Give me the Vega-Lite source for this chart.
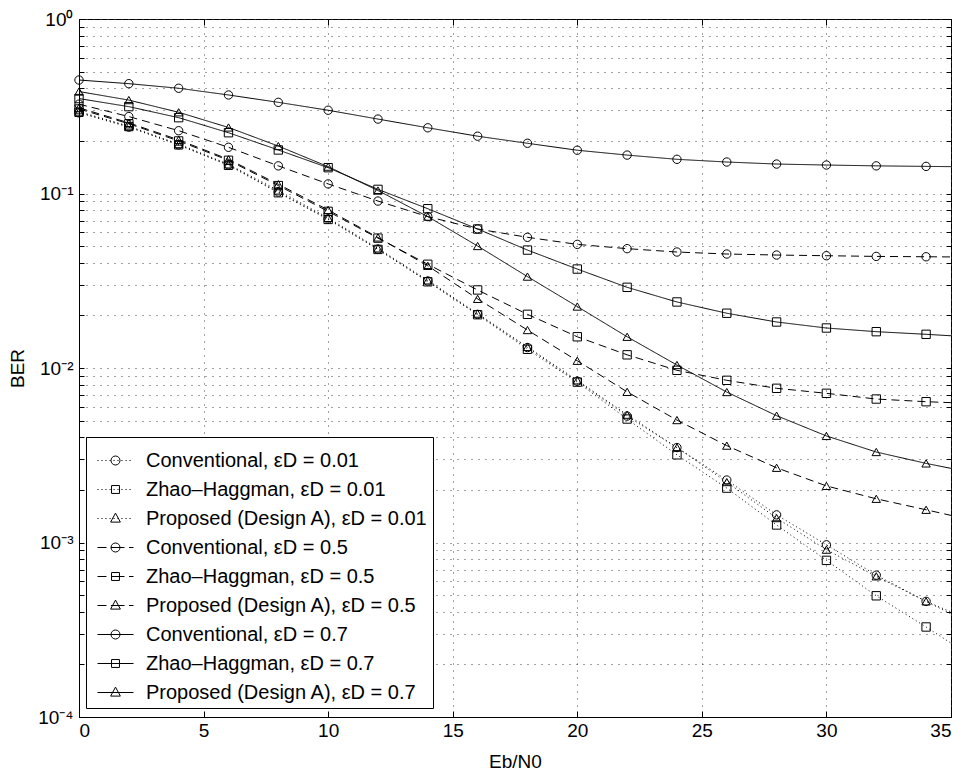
{
  "$schema": "https://vega.github.io/schema/vega-lite/v6.json",
  "width": 872,
  "height": 698,
  "autosize": {"type": "none"},
  "padding": {"left": 79, "top": 19, "right": 14, "bottom": 59},
  "background": "white",
  "config": {
    "font": "Liberation Sans",
    "view": {"stroke": "black", "strokeWidth": 1},
    "axis": {"domainColor": "black", "tickColor": "black", "labelColor": "black", "titleColor": "black", "labelFontSize": 19, "titleFontSize": 19, "titleFontWeight": "normal", "labelFont": "Liberation Sans", "titleFont": "Liberation Sans"}
  },
  "data": {"values": [
    {"m":"Conv","e":"0.01","x":0,"y":0.29},{"m":"Conv","e":"0.01","x":2,"y":0.24},{"m":"Conv","e":"0.01","x":4,"y":0.19},{"m":"Conv","e":"0.01","x":6,"y":0.146},{"m":"Conv","e":"0.01","x":8,"y":0.102},{"m":"Conv","e":"0.01","x":10,"y":0.0715},{"m":"Conv","e":"0.01","x":12,"y":0.048},{"m":"Conv","e":"0.01","x":14,"y":0.0315},{"m":"Conv","e":"0.01","x":16,"y":0.0203},{"m":"Conv","e":"0.01","x":18,"y":0.0131},{"m":"Conv","e":"0.01","x":20,"y":0.0084},{"m":"Conv","e":"0.01","x":22,"y":0.0053},{"m":"Conv","e":"0.01","x":24,"y":0.0035},{"m":"Conv","e":"0.01","x":26,"y":0.00228},{"m":"Conv","e":"0.01","x":28,"y":0.00144},{"m":"Conv","e":"0.01","x":30,"y":0.00097},{"m":"Conv","e":"0.01","x":32,"y":0.00065},{"m":"Conv","e":"0.01","x":34,"y":0.00046},{"m":"Conv","e":"0.01","x":35,"y":0.00039},
    {"m":"ZH","e":"0.01","x":0,"y":0.292},{"m":"ZH","e":"0.01","x":2,"y":0.242},{"m":"ZH","e":"0.01","x":4,"y":0.19},{"m":"ZH","e":"0.01","x":6,"y":0.145},{"m":"ZH","e":"0.01","x":8,"y":0.101},{"m":"ZH","e":"0.01","x":10,"y":0.071},{"m":"ZH","e":"0.01","x":12,"y":0.0478},{"m":"ZH","e":"0.01","x":14,"y":0.0312},{"m":"ZH","e":"0.01","x":16,"y":0.0202},{"m":"ZH","e":"0.01","x":18,"y":0.0128},{"m":"ZH","e":"0.01","x":20,"y":0.0083},{"m":"ZH","e":"0.01","x":22,"y":0.0051},{"m":"ZH","e":"0.01","x":24,"y":0.00318},{"m":"ZH","e":"0.01","x":26,"y":0.00205},{"m":"ZH","e":"0.01","x":28,"y":0.00126},{"m":"ZH","e":"0.01","x":30,"y":0.00079},{"m":"ZH","e":"0.01","x":32,"y":0.000495},{"m":"ZH","e":"0.01","x":34,"y":0.000328},{"m":"ZH","e":"0.01","x":35,"y":0.000265},
    {"m":"Prop","e":"0.01","x":0,"y":0.295},{"m":"Prop","e":"0.01","x":2,"y":0.243},{"m":"Prop","e":"0.01","x":4,"y":0.192},{"m":"Prop","e":"0.01","x":6,"y":0.147},{"m":"Prop","e":"0.01","x":8,"y":0.104},{"m":"Prop","e":"0.01","x":10,"y":0.0725},{"m":"Prop","e":"0.01","x":12,"y":0.0485},{"m":"Prop","e":"0.01","x":14,"y":0.0318},{"m":"Prop","e":"0.01","x":16,"y":0.0205},{"m":"Prop","e":"0.01","x":18,"y":0.0132},{"m":"Prop","e":"0.01","x":20,"y":0.0085},{"m":"Prop","e":"0.01","x":22,"y":0.0054},{"m":"Prop","e":"0.01","x":24,"y":0.0035},{"m":"Prop","e":"0.01","x":26,"y":0.00222},{"m":"Prop","e":"0.01","x":28,"y":0.00138},{"m":"Prop","e":"0.01","x":30,"y":0.00091},{"m":"Prop","e":"0.01","x":32,"y":0.00064},{"m":"Prop","e":"0.01","x":34,"y":0.00046},{"m":"Prop","e":"0.01","x":35,"y":0.0004},
    {"m":"Conv","e":"0.5","x":0,"y":0.325},{"m":"Conv","e":"0.5","x":2,"y":0.276},{"m":"Conv","e":"0.5","x":4,"y":0.229},{"m":"Conv","e":"0.5","x":6,"y":0.184},{"m":"Conv","e":"0.5","x":8,"y":0.144},{"m":"Conv","e":"0.5","x":10,"y":0.1135},{"m":"Conv","e":"0.5","x":12,"y":0.0905},{"m":"Conv","e":"0.5","x":14,"y":0.0737},{"m":"Conv","e":"0.5","x":16,"y":0.0626},{"m":"Conv","e":"0.5","x":18,"y":0.0561},{"m":"Conv","e":"0.5","x":20,"y":0.0511},{"m":"Conv","e":"0.5","x":22,"y":0.0483},{"m":"Conv","e":"0.5","x":24,"y":0.0462},{"m":"Conv","e":"0.5","x":26,"y":0.045},{"m":"Conv","e":"0.5","x":28,"y":0.0444},{"m":"Conv","e":"0.5","x":30,"y":0.044},{"m":"Conv","e":"0.5","x":32,"y":0.0436},{"m":"Conv","e":"0.5","x":34,"y":0.0434},{"m":"Conv","e":"0.5","x":35,"y":0.0433},
    {"m":"ZH","e":"0.5","x":0,"y":0.305},{"m":"ZH","e":"0.5","x":2,"y":0.251},{"m":"ZH","e":"0.5","x":4,"y":0.2},{"m":"ZH","e":"0.5","x":6,"y":0.155},{"m":"ZH","e":"0.5","x":8,"y":0.111},{"m":"ZH","e":"0.5","x":10,"y":0.079},{"m":"ZH","e":"0.5","x":12,"y":0.0555},{"m":"ZH","e":"0.5","x":14,"y":0.0393},{"m":"ZH","e":"0.5","x":16,"y":0.028},{"m":"ZH","e":"0.5","x":18,"y":0.0203},{"m":"ZH","e":"0.5","x":20,"y":0.0151},{"m":"ZH","e":"0.5","x":22,"y":0.0119},{"m":"ZH","e":"0.5","x":24,"y":0.0097},{"m":"ZH","e":"0.5","x":26,"y":0.0085},{"m":"ZH","e":"0.5","x":28,"y":0.00765},{"m":"ZH","e":"0.5","x":30,"y":0.00716},{"m":"ZH","e":"0.5","x":32,"y":0.00664},{"m":"ZH","e":"0.5","x":34,"y":0.00641},{"m":"ZH","e":"0.5","x":35,"y":0.00633},
    {"m":"Prop","e":"0.5","x":0,"y":0.31},{"m":"Prop","e":"0.5","x":2,"y":0.254},{"m":"Prop","e":"0.5","x":4,"y":0.203},{"m":"Prop","e":"0.5","x":6,"y":0.157},{"m":"Prop","e":"0.5","x":8,"y":0.113},{"m":"Prop","e":"0.5","x":10,"y":0.0805},{"m":"Prop","e":"0.5","x":12,"y":0.056},{"m":"Prop","e":"0.5","x":14,"y":0.0385},{"m":"Prop","e":"0.5","x":16,"y":0.0249},{"m":"Prop","e":"0.5","x":18,"y":0.0165},{"m":"Prop","e":"0.5","x":20,"y":0.011},{"m":"Prop","e":"0.5","x":22,"y":0.0073},{"m":"Prop","e":"0.5","x":24,"y":0.00503},{"m":"Prop","e":"0.5","x":26,"y":0.00359},{"m":"Prop","e":"0.5","x":28,"y":0.00268},{"m":"Prop","e":"0.5","x":30,"y":0.00211},{"m":"Prop","e":"0.5","x":32,"y":0.00178},{"m":"Prop","e":"0.5","x":34,"y":0.00154},{"m":"Prop","e":"0.5","x":35,"y":0.00143},
    {"m":"Conv","e":"0.7","x":0,"y":0.447},{"m":"Conv","e":"0.7","x":2,"y":0.426},{"m":"Conv","e":"0.7","x":4,"y":0.401},{"m":"Conv","e":"0.7","x":6,"y":0.367},{"m":"Conv","e":"0.7","x":8,"y":0.333},{"m":"Conv","e":"0.7","x":10,"y":0.3},{"m":"Conv","e":"0.7","x":12,"y":0.267},{"m":"Conv","e":"0.7","x":14,"y":0.238},{"m":"Conv","e":"0.7","x":16,"y":0.213},{"m":"Conv","e":"0.7","x":18,"y":0.194},{"m":"Conv","e":"0.7","x":20,"y":0.177},{"m":"Conv","e":"0.7","x":22,"y":0.166},{"m":"Conv","e":"0.7","x":24,"y":0.157},{"m":"Conv","e":"0.7","x":26,"y":0.1515},{"m":"Conv","e":"0.7","x":28,"y":0.1475},{"m":"Conv","e":"0.7","x":30,"y":0.1456},{"m":"Conv","e":"0.7","x":32,"y":0.144},{"m":"Conv","e":"0.7","x":34,"y":0.143},{"m":"Conv","e":"0.7","x":35,"y":0.1425},
    {"m":"ZH","e":"0.7","x":0,"y":0.35},{"m":"ZH","e":"0.7","x":2,"y":0.3146},{"m":"ZH","e":"0.7","x":4,"y":0.272},{"m":"ZH","e":"0.7","x":6,"y":0.223},{"m":"ZH","e":"0.7","x":8,"y":0.1776},{"m":"ZH","e":"0.7","x":10,"y":0.1406},{"m":"ZH","e":"0.7","x":12,"y":0.1056},{"m":"ZH","e":"0.7","x":14,"y":0.0818},{"m":"ZH","e":"0.7","x":16,"y":0.0626},{"m":"ZH","e":"0.7","x":18,"y":0.0474},{"m":"ZH","e":"0.7","x":20,"y":0.0369},{"m":"ZH","e":"0.7","x":22,"y":0.029},{"m":"ZH","e":"0.7","x":24,"y":0.0239},{"m":"ZH","e":"0.7","x":26,"y":0.0206},{"m":"ZH","e":"0.7","x":28,"y":0.01835},{"m":"ZH","e":"0.7","x":30,"y":0.01695},{"m":"ZH","e":"0.7","x":32,"y":0.01615},{"m":"ZH","e":"0.7","x":34,"y":0.0156},{"m":"ZH","e":"0.7","x":35,"y":0.0153},
    {"m":"Prop","e":"0.7","x":0,"y":0.384},{"m":"Prop","e":"0.7","x":2,"y":0.343},{"m":"Prop","e":"0.7","x":4,"y":0.292},{"m":"Prop","e":"0.7","x":6,"y":0.239},{"m":"Prop","e":"0.7","x":8,"y":0.187},{"m":"Prop","e":"0.7","x":10,"y":0.1425},{"m":"Prop","e":"0.7","x":12,"y":0.104},{"m":"Prop","e":"0.7","x":14,"y":0.0737},{"m":"Prop","e":"0.7","x":16,"y":0.05},{"m":"Prop","e":"0.7","x":18,"y":0.0334},{"m":"Prop","e":"0.7","x":20,"y":0.0225},{"m":"Prop","e":"0.7","x":22,"y":0.0151},{"m":"Prop","e":"0.7","x":24,"y":0.0104},{"m":"Prop","e":"0.7","x":26,"y":0.00728},{"m":"Prop","e":"0.7","x":28,"y":0.00533},{"m":"Prop","e":"0.7","x":30,"y":0.00408},{"m":"Prop","e":"0.7","x":32,"y":0.0033},{"m":"Prop","e":"0.7","x":34,"y":0.00284},{"m":"Prop","e":"0.7","x":35,"y":0.00266}
  ]},
  "layer": [
    {
      "mark": {"type": "line", "color": "black", "strokeWidth": 1, "clip": true},
      "encoding": {
        "x": {"field": "x", "type": "quantitative", "scale": {"domain": [0, 35], "nice": false},
          "axis": {"orient": "bottom", "values": [0,5,10,15,20,25,30,35], "title": "Eb/N0", "titlePadding": 12, "grid": true, "gridDash": [1,6], "gridColor": "#444", "gridWidth": 1, "tickSize": -6, "labelPadding": 10, "domainColor": "black"}},
        "y": {"field": "y", "type": "quantitative", "scale": {"type": "log", "domain": [0.0001, 1], "nice": false},
          "axis": {"orient": "left", "title": "BER", "titlePadding": 10,
            "values": [0.0001,0.0002,0.0003,0.0004,0.0005,0.0006,0.0007,0.0008,0.0009,0.001,0.002,0.003,0.004,0.005,0.006,0.007,0.008,0.009,0.01,0.02,0.03,0.04,0.05,0.06,0.07,0.08,0.09,0.1,0.2,0.3,0.4,0.5,0.6,0.7,0.8,0.9,1],
            "labelExpr": "abs(log(datum.value)/LN10 - round(log(datum.value)/LN10)) < 0.000001 ? ['10⁻⁴','10⁻³','10⁻²','10⁻¹','10⁰'][round(log(datum.value)/LN10)+4] : ''",
            "grid": true, "gridDash": [1,6], "gridColor": "#444", "gridWidth": 1, "tickSize": -5, "labelPadding": 11}},
        "detail": [{"field": "m"}, {"field": "e"}],
        "strokeDash": {"field": "e", "type": "nominal", "scale": {"domain": ["0.01","0.5","0.7"], "range": [[1,3],[8,5],[1,0]]}, "legend": null}
      }
    },
    {
      "transform": [{"filter": "datum.x < 35"}],
      "mark": {"type": "point", "filled": false, "color": "black", "strokeWidth": 1, "size": 70, "opacity": 1},
      "encoding": {
        "x": {"field": "x", "type": "quantitative", "axis": null},
        "y": {"field": "y", "type": "quantitative", "axis": null},
        "shape": {"field": "m", "type": "nominal", "scale": {"domain": ["Conv","ZH","Prop"], "range": ["circle","square","triangle-up"]}, "legend": null}
      }
    },
    {
      "transform": [{"filter": "datum.x > 1000"}],
      "mark": {"type": "point", "filled": false, "color": "black", "strokeWidth": 1},
      "encoding": {
        "x": {"field": "x", "type": "quantitative", "axis": {"orient": "top", "values": [0,5,10,15,20,25,30,35], "labels": false, "grid": false, "domain": false, "tickSize": -6, "title": null}},
        "y": {"field": "y", "type": "quantitative", "axis": {"orient": "right", "labels": false, "grid": false, "domain": false, "tickSize": -5, "title": null,
            "values": [0.0001,0.0002,0.0003,0.0004,0.0005,0.0006,0.0007,0.0008,0.0009,0.001,0.002,0.003,0.004,0.005,0.006,0.007,0.008,0.009,0.01,0.02,0.03,0.04,0.05,0.06,0.07,0.08,0.09,0.1,0.2,0.3,0.4,0.5,0.6,0.7,0.8,0.9,1]}},
        "shape": {"field": "series", "type": "nominal",
          "scale": {
            "domain": ["Conventional, εD = 0.01","Zhao–Haggman, εD = 0.01","Proposed (Design A), εD = 0.01","Conventional, εD = 0.5","Zhao–Haggman, εD = 0.5","Proposed (Design A), εD = 0.5","Conventional, εD = 0.7","Zhao–Haggman, εD = 0.7","Proposed (Design A), εD = 0.7"],
            "range": [
              "M-1,0 h0.06 M-0.78,0 h0.06 M-0.56,0 h0.06 M-0.33,0 h0.06 M-0.11,0 h0.06 M0.11,0 h0.06 M0.33,0 h0.06 M0.56,0 h0.06 M0.78,0 h0.06 M-0.25,0 A0.25,0.25 0 1,1 0.25,0 A0.25,0.25 0 1,1 -0.25,0 Z",
              "M-1,0 h0.06 M-0.78,0 h0.06 M-0.56,0 h0.06 M-0.33,0 h0.06 M-0.11,0 h0.06 M0.11,0 h0.06 M0.33,0 h0.06 M0.56,0 h0.06 M0.78,0 h0.06 M-0.22,-0.22 L0.22,-0.22 L0.22,0.22 L-0.22,0.22 Z",
              "M-1,0 h0.06 M-0.78,0 h0.06 M-0.56,0 h0.06 M-0.33,0 h0.06 M-0.11,0 h0.06 M0.11,0 h0.06 M0.33,0 h0.06 M0.56,0 h0.06 M0.78,0 h0.06 M0,-0.3 L0.27,0.2 L-0.27,0.2 Z",
              "M-1,0 L-0.5,0 M-0.25,0 L0.5,0 M0.75,0 L1,0 M-0.25,0 A0.25,0.25 0 1,1 0.25,0 A0.25,0.25 0 1,1 -0.25,0 Z",
              "M-1,0 L-0.5,0 M-0.25,0 L0.5,0 M0.75,0 L1,0 M-0.22,-0.22 L0.22,-0.22 L0.22,0.22 L-0.22,0.22 Z",
              "M-1,0 L-0.5,0 M-0.25,0 L0.5,0 M0.75,0 L1,0 M0,-0.3 L0.27,0.2 L-0.27,0.2 Z",
              "M-1,0 L1,0 M-0.25,0 A0.25,0.25 0 1,1 0.25,0 A0.25,0.25 0 1,1 -0.25,0 Z",
              "M-1,0 L1,0 M-0.22,-0.22 L0.22,-0.22 L0.22,0.22 L-0.22,0.22 Z",
              "M-1,0 L1,0 M0,-0.3 L0.27,0.2 L-0.27,0.2 Z"
            ]},
          "legend": {"orient": "none", "legendX": 7, "legendY": 418, "title": null, "symbolSize": 1296, "symbolOffset": 6, "symbolStrokeWidth": 1, "symbolStrokeColor": "black", "symbolFillColor": "transparent", "symbolOpacity": 1, "labelFontSize": 20, "labelFont": "Liberation Sans", "labelColor": "black", "labelLimit": 0, "padding": 5, "rowPadding": 0, "labelOffset": 12, "strokeColor": "black", "fillColor": "white", "cornerRadius": 0}
        }
      }
    }
  ],
  "resolve": {"scale": {"shape": "independent"}, "axis": {"x": "independent", "y": "independent"}, "legend": {"shape": "independent"}}
}
